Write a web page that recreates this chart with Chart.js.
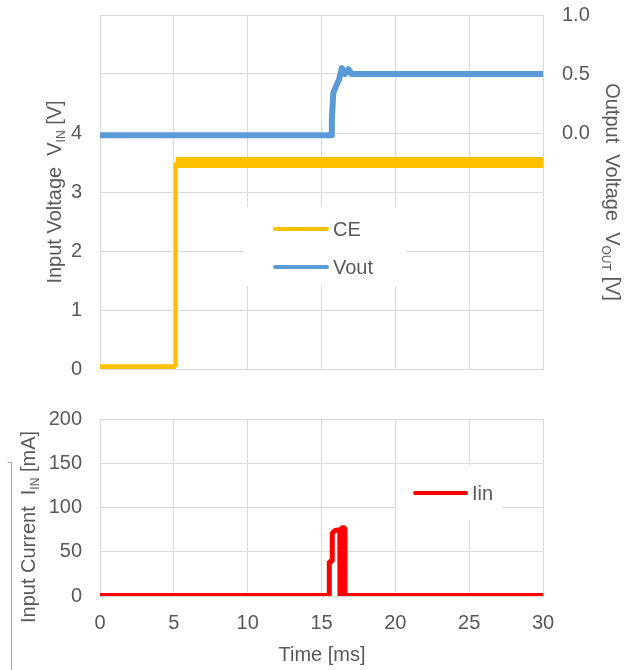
<!DOCTYPE html>
<html><head><meta charset="utf-8">
<script src="https://cdn.jsdelivr.net/npm/chart.js@4.4.1/dist/chart.umd.min.js"></script>
<style>
html,body{margin:0;padding:0;background:#fff;width:633px;height:670px;overflow:hidden}
#c1{position:absolute;left:0;top:0}
#c2{position:absolute;left:0;top:400px}
</style></head><body>
<canvas id="c1" width="633" height="390"></canvas>
<canvas id="c2" width="633" height="270"></canvas>
<script>
// ---- data ----
const ceTime   = [0, 5.13, 5.13, 30];
const ceVolt   = [0.03, 0.03, 3.5, 3.5];
const voutTime = [0, 15.69, 15.7, 15.8, 16.03, 16.21, 16.37, 16.59, 16.82, 17.04, 30];
const voutVolt = [-0.02, -0.02, 0.11, 0.34, 0.41, 0.46, 0.55, 0.5, 0.54, 0.5, 0.5];
const iinTime  = [0, 15.52, 15.53, 15.72, 15.73, 15.91, 16.24, 16.25, 16.33, 16.34, 16.58, 16.59, 30];
const iinCurr  = [0.5, 0.5, 39, 39, 71, 74, 75, 0.5, 0.5, 77, 77, 0.5, 0.5];
const timeTicks = [0, 5, 10, 15, 20, 25, 30];
const vinTicks  = [0, 1, 2, 3, 4];
const voutTicks = [0.0, 0.5, 1.0];
const iinTicks  = [0, 50, 100, 150, 200];

const FONT = '"Liberation Sans", Arial, sans-serif';
const TXT = '#595959';
const GRID = '#d9d9d9';
const FS = 20;

function pts(xs, ys){ return xs.map((x,i)=>({x:x, y:ys[i]})); }
function fix(s, prop, val){ s[prop] = val; s.paddingTop = 0; s.paddingBottom = 0; s.paddingLeft = 0; s.paddingRight = 0; }

function richText(ctx, parts, cx, cy, angle, align){
  ctx.save();
  ctx.translate(cx, cy);
  ctx.rotate(angle);
  ctx.fillStyle = TXT;
  ctx.textBaseline = 'alphabetic';
  ctx.textAlign = 'left';
  let total = 0;
  const ws = parts.map(p=>{ ctx.font = (p.sub?12:FS)+'px '+FONT; const w = ctx.measureText(p.t).width; total += w; return w; });
  let x = align === 'left' ? 0 : -total/2;
  parts.forEach((p,i)=>{ ctx.font = (p.sub?12:FS)+'px '+FONT; ctx.fillText(p.t, x, p.sub?4:0); x += ws[i]; });
  ctx.restore();
}

const top1 = {
  id:'top1',
  afterDatasetsDraw(chart){
    const ctx = chart.ctx;
    ctx.save();
    ctx.fillStyle = '#fff';
    ctx.fillRect(244, 207, 162, 79);
    ctx.lineCap = 'round';
    ctx.lineWidth = 4;
    ctx.strokeStyle = '#FFC000';
    ctx.beginPath(); ctx.moveTo(275, 229); ctx.lineTo(327, 229); ctx.stroke();
    ctx.strokeStyle = '#5B9BD5';
    ctx.beginPath(); ctx.moveTo(275, 267); ctx.lineTo(327, 267); ctx.stroke();
    ctx.restore();
    richText(ctx, [{t:'CE'}], 333, 236, 0, 'left');
    richText(ctx, [{t:'Vout'}], 333, 274, 0, 'left');
    richText(ctx, [{t:'Input Voltage  V'},{t:'IN',sub:true},{t:' [V]'}], 61, 192, -Math.PI/2);
    richText(ctx, [{t:'Output  Voltage  V'},{t:'OUT',sub:true},{t:' [V]'}], 606, 192, Math.PI/2);
  }
};

const bot1 = {
  id:'bot1',
  afterDatasetsDraw(chart){
    const ctx = chart.ctx;
    ctx.save();
    ctx.fillStyle = '#fff';
    ctx.fillRect(397, 65, 105, 55);
    ctx.lineCap = 'round';
    ctx.lineWidth = 4;
    ctx.strokeStyle = '#FF0000';
    ctx.beginPath(); ctx.moveTo(415, 93); ctx.lineTo(466, 93); ctx.stroke();
    ctx.strokeStyle = '#a6a6a6';
    ctx.lineWidth = 1;
    ctx.beginPath(); ctx.moveTo(8, 62.5); ctx.lineTo(11.5, 62.5); ctx.moveTo(11.5, 62); ctx.lineTo(11.5, 270); ctx.stroke();
    ctx.restore();
    richText(ctx, [{t:'Iin'}], 472, 100, 0, 'left');
    richText(ctx, [{t:'Input Current  I'},{t:'IN',sub:true},{t:' [mA]'}], 35, 127, -Math.PI/2);
    richText(ctx, [{t:'Time [ms]'}], 322, 261, 0);
  }
};

const tickFont = {family: FONT, size: FS};

new Chart(document.getElementById('c1'), {
  type: 'line',
  data: { datasets: [
    { label:'CE', data: pts(ceTime, ceVolt), yAxisID:'y', borderColor:'#FFC000', backgroundColor:'#FFC000',
      borderWidth: 6, pointRadius: 0, borderJoinStyle:'bevel',
      segment: { borderWidth: c => (c.p0.parsed.y > 1 && c.p1.parsed.y > 1) ? 11 : ((c.p0.parsed.y < 1 && c.p1.parsed.y < 1) ? 6 : 4) } },
    { label:'Vout', data: pts(voutTime, voutVolt), yAxisID:'y2', borderColor:'#5B9BD5', backgroundColor:'#5B9BD5',
      borderWidth: 6, pointRadius: 0, borderJoinStyle:'round' }
  ]},
  options: {
    responsive:false, animation:false, events:[],
    layout:{ padding:{ top:15, left:0, right:0, bottom:0 } },
    plugins:{ legend:{display:false}, tooltip:{enabled:false} },
    scales:{
      x:{ type:'linear', min:0, max:30,
          afterBuildTicks: s => { s.ticks = timeTicks.map(v=>({value:v})); },
          ticks:{ display:false },
          grid:{ color:GRID, drawTicks:false }, border:{ color:GRID },
          afterFit: s => fix(s, 'height', 21) },
      y:{ position:'left', min:0, max:6,
          afterBuildTicks: s => { s.ticks = [0,1,2,3,4,5,6].map(v=>({value:v})); },
          ticks:{ padding:18, color:TXT, font:tickFont, callback: v => vinTicks.includes(v) ? String(v) : '' },
          grid:{ color:GRID, drawTicks:false }, border:{ color:GRID },
          afterFit: s => fix(s, 'width', 100) },
      y2:{ position:'right', min:-2, max:1,
          afterBuildTicks: s => { s.ticks = [-2,-1.5,-1,-0.5,0,0.5,1].map(v=>({value:v})); },
          ticks:{ padding:19, color:TXT, font:tickFont, callback: v => voutTicks.includes(v) ? v.toFixed(1) : '' },
          grid:{ display:false, drawTicks:false }, border:{ display:false },
          afterFit: s => fix(s, 'width', 90) }
    }
  },
  plugins:[top1]
});

new Chart(document.getElementById('c2'), {
  type: 'line',
  data: { datasets: [
    { label:'Iin', data: pts(iinTime, iinCurr), borderColor:'#FF0000', backgroundColor:'#FF0000',
      borderWidth: 5, pointRadius: 0, borderJoinStyle:'bevel' }
  ]},
  options: {
    responsive:false, animation:false, events:[],
    layout:{ padding:{ top:19, left:0, right:90, bottom:0 } },
    plugins:{ legend:{display:false}, tooltip:{enabled:false} },
    scales:{
      x:{ type:'linear', min:0, max:30,
          afterBuildTicks: s => { s.ticks = timeTicks.map(v=>({value:v})); },
          ticks:{ padding:15, color:TXT, font:tickFont, maxRotation:0 },
          grid:{ color:GRID, drawTicks:false }, border:{ color:GRID },
          afterFit: s => fix(s, 'height', 74) },
      y:{ min:0, max:200,
          afterBuildTicks: s => { s.ticks = iinTicks.map(v=>({value:v})); },
          ticks:{ padding:18, color:TXT, font:tickFont },
          grid:{ color:GRID, drawTicks:false }, border:{ color:GRID },
          afterFit: s => fix(s, 'width', 100) }
    }
  },
  plugins:[bot1]
});
</script>
</body></html>
